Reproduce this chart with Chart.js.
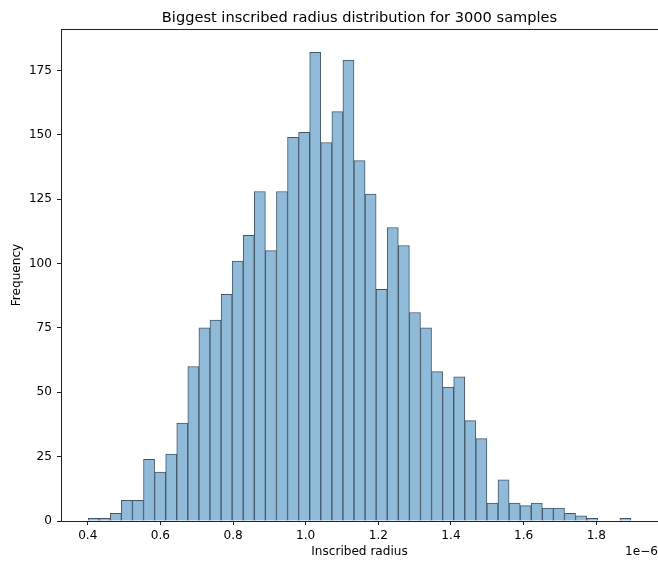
<!DOCTYPE html>
<html>
<head>
<meta charset="utf-8">
<script src="https://cdn.jsdelivr.net/npm/chart.js@4/dist/chart.umd.min.js"></script>
<style>
    html, body { margin: 0; padding: 0; background: #fff; }
    canvas { display: block; }
</style>
</head>
<body>
<canvas id="histChart" width="658" height="562"></canvas>
<script>
// Histogram data (x values in units of 1e-6)
const binStart = 0.401;
const binWidth = 0.0305;
const binCounts = [
    1, 1, 3, 8, 8, 24, 19, 26, 38, 60,
    75, 78, 88, 101, 111, 128, 105, 128, 149, 151,
    182, 147, 159, 179, 140, 127, 90, 114, 107, 81,
    75, 58, 52, 56, 39, 32, 7, 16, 7, 6,
    7, 5, 5, 3, 2, 1, 0, 0, 1,
];
const xTicks = [0.4, 0.6, 0.8, 1.0, 1.2, 1.4, 1.6, 1.8];
const yTicks = [0, 25, 50, 75, 100, 125, 150, 175];
const xRange = [0.3263, 1.97];
const yRange = [0, 191.1];

const FONT = "'DejaVu Sans', sans-serif";
const TICK_SIZE = 12.1;
const TITLE_TEXT = 'Biggest inscribed radius distribution for 3000 samples';

// Bars centred on each bin
const barData = binCounts.map((count, i) => ({
    x: binStart + (i + 0.5) * binWidth,
    y: count,
}));

// Draws the box around the plot, the title over the axes and the "1e−6" offset text
const framePlugin = {
    id: 'frame',
    afterDraw(chart) {
        const { ctx, chartArea } = chart;
        ctx.save();
        ctx.strokeStyle = '#222';
        ctx.lineWidth = 1;
        ctx.strokeRect(
            Math.round(chartArea.left) + 0.5,
            Math.round(chartArea.top) + 0.5,
            chartArea.right - chartArea.left,
            chartArea.bottom - chartArea.top
        );
        ctx.fillStyle = '#000';
        ctx.font = `14.6px ${FONT}`;
        ctx.textAlign = 'center';
        ctx.textBaseline = 'alphabetic';
        ctx.fillText(TITLE_TEXT, (chartArea.left + chartArea.right) / 2, 21.5);

        ctx.font = `${TICK_SIZE}px ${FONT}`;
        ctx.textAlign = 'right';
        ctx.textBaseline = 'middle';
        ctx.fillText('1e\u22126', chart.width, 552);
        ctx.restore();
    },
};

new Chart(document.getElementById('histChart').getContext('2d'), {
    type: 'bar',
    data: {
        datasets: [
            {
                data: barData,
                backgroundColor: 'rgb(143, 187, 217)',
                borderColor: '#44576a',
                borderWidth: 1,
                barPercentage: 1,
                categoryPercentage: 1,
            },
        ],
    },
    options: {
        responsive: false,
        devicePixelRatio: 1,
        animation: false,
        layout: { padding: { left: 0, right: 0, top: 29, bottom: 0 } },
        plugins: {
            legend: { display: false },
            tooltip: { enabled: false },
            title: { display: false },
        },
        scales: {
            x: {
                type: 'linear',
                min: xRange[0],
                max: xRange[1],
                offset: false,
                afterBuildTicks: (scale) => {
                    scale.ticks = xTicks.map((v) => ({ value: v }));
                },
                afterFit: (scale) => {
                    scale.height = 41;
                },
                ticks: {
                    color: '#000',
                    font: { family: FONT, size: TICK_SIZE },
                    padding: 4,
                    maxRotation: 0,
                    autoSkip: false,
                    callback: (value) => value.toFixed(1),
                },
                grid: {
                    offset: false,
                    drawOnChartArea: false,
                    drawTicks: true,
                    tickLength: 4,
                    color: '#222',
                },
                border: { display: false },
                title: {
                    display: true,
                    text: 'Inscribed radius',
                    color: '#000',
                    font: { family: FONT, size: TICK_SIZE },
                    padding: { top: 0, bottom: 3 },
                },
            },
            y: {
                min: yRange[0],
                max: yRange[1],
                afterBuildTicks: (scale) => {
                    scale.ticks = yTicks.map((v) => ({ value: v }));
                },
                afterFit: (scale) => {
                    scale.width = 61;
                },
                ticks: {
                    color: '#000',
                    font: { family: FONT, size: TICK_SIZE },
                    padding: 5,
                    autoSkip: false,
                },
                grid: {
                    drawOnChartArea: false,
                    drawTicks: true,
                    tickLength: 4,
                    color: '#222',
                },
                border: { display: false },
                title: {
                    display: true,
                    text: 'Frequency',
                    color: '#000',
                    font: { family: FONT, size: TICK_SIZE },
                    padding: { top: 9.7, bottom: 0 },
                },
            },
        },
    },
    plugins: [framePlugin],
});
</script>
</body>
</html>
